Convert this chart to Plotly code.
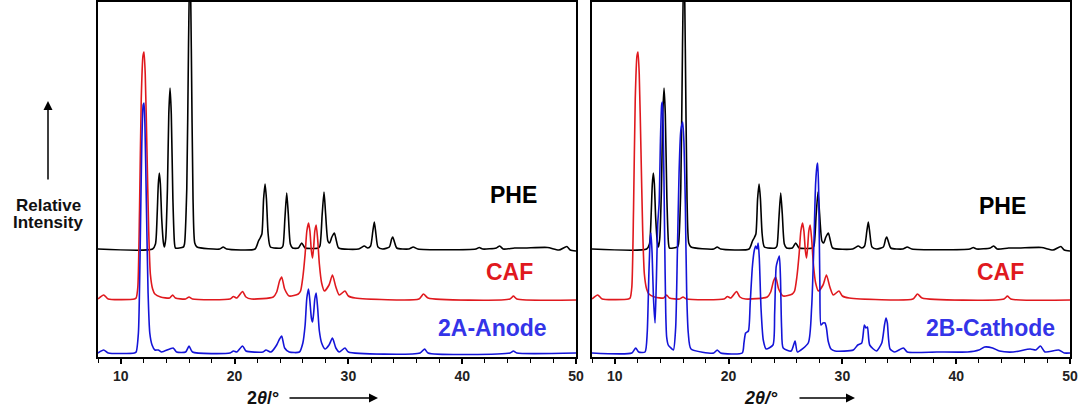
import plotly.graph_objects as go

# ---------------- data (2theta, intensity above own baseline) ----------------
phe_x = [8.0, 12.8, 13.05, 13.2, 13.3, 13.39, 13.48, 13.6, 13.75, 13.83, 13.95, 14.1, 14.22, 14.33, 14.44, 14.58,
         14.72, 14.8, 15.5, 15.6, 15.8, 15.95, 16.08, 16.2, 16.35, 16.5, 16.7, 18.7, 19.0, 19.3, 21.8, 22.1, 22.25,
         22.4, 22.55, 22.68, 22.8, 22.95, 23.15, 24.1, 24.25, 24.42, 24.58, 24.72, 24.9, 25.1, 25.6, 25.9, 26.2,
         27.35, 27.5, 27.7, 27.86, 28.0, 28.2, 28.35, 28.55, 28.77, 28.95, 29.15, 30.9, 31.4, 31.7, 31.95, 32.15,
         32.28, 32.42, 32.6, 33.0, 33.6, 33.8, 33.9, 34.05, 34.25, 35.3, 35.7, 36.1, 41.2, 41.5, 41.8, 43.0, 43.3,
         43.6, 44.6, 45.5, 47.5, 48.5, 49.2, 49.5, 50.0]
phe_y = [0, 0, 5, 35, 65, 76, 65, 30, 6, 2, 10, 60, 135, 161, 135, 50,
         6, 1, 2, 5, 60, 200, 300, 200, 50, 6, 2, 0, 2, 0, 0, 8, 11,
         15, 50, 65, 50, 15, 2, 1, 3, 30, 56, 35, 5, 1, 1, 6, 1,
         1, 3, 35, 57, 35, 8, 6, 12, 16, 8, 1, 0, 3, 1, 3, 18,
         27, 15, 2, 0, 2, 10, 12, 7, 1, 0, 2, 0, 0, 1.5, 0, 1, 3,
         0, 1, 1, 1.5, -1, 2.5, -1, -2]

caf_x = [8.0, 8.5, 8.9, 11.2, 11.35, 11.5, 11.65, 11.8, 11.95, 12.04, 12.15, 12.3, 12.45, 12.6, 12.8, 13.0, 13.5,
         14.3, 14.56, 14.8, 15.7, 16.0, 16.3, 19.6, 19.9, 20.2, 20.7, 21.0, 21.5, 23.4, 23.7, 23.95, 24.14, 24.4,
         24.8, 25.6, 25.8, 26.0, 26.2, 26.35, 26.5, 26.62, 26.75, 26.85, 26.95, 27.05, 27.17, 27.3, 27.45, 27.65,
         27.9, 28.3, 28.6, 28.9, 29.2, 29.7, 30.0, 30.6, 36.2, 36.6, 37.0, 44.2, 44.5, 44.8, 50.0]
caf_y = [0, 4, 0, 0, 1, 12, 90, 200, 243, 247, 225, 150, 70, 25, 10, 5, 2,
         1, 4, 1, 0, 2, 0, 0, 2.5, 1, 7.5, 2, 0, 2, 7, 18, 22, 10,
         3, 5, 8, 22, 45, 68, 76, 68, 48, 41, 52, 68, 74, 60, 35, 16,
         8, 14, 24, 12, 4, 8, 3, 1, 0, 5, 1, 0, 3, 0, -1]

anode_x = [8.0, 8.5, 8.9, 11.2, 11.35, 11.55, 11.7, 11.85, 11.97, 12.04, 12.12, 12.25, 12.4, 12.55, 12.75, 13.0,
           13.3, 13.6, 14.6, 14.9, 15.7, 16.0, 16.3, 19.6, 19.9, 20.2, 20.7, 21.0, 22.5, 22.76, 23.2, 23.7, 23.95,
           24.14, 24.4, 24.8, 25.7, 26.0, 26.2, 26.35, 26.5, 26.62, 26.75, 26.85, 26.95, 27.05, 27.17, 27.3, 27.45,
           27.65, 27.95, 28.3, 28.6, 28.9, 29.2, 29.7, 30.0, 36.3, 36.7, 37.0, 44.2, 44.5, 44.8, 50.0]
anode_y = [0, 3, 0, 0, 1, 20, 100, 210, 248, 250, 230, 150, 60, 20, 8, 3,
           3, 1, 5, 1, 1, 7, 1, 0, 2, 1, 7, 2, 1, 3, 1, 8, 14,
           17, 5, 1, 1, 10, 28, 55, 64, 52, 35, 31, 40, 54, 60, 45, 22,
           10, 4, 8, 15, 5, 1, 5, 1, 0, 4, 0, 0, 2, 0, 0]

cathode_x = [8.0, 11.5, 11.84, 12.1, 12.66, 12.85, 13.0, 13.12, 13.18, 13.28, 13.4, 13.54, 13.65, 13.78, 13.9, 14.02,
             14.12, 14.18, 14.26, 14.38, 14.48, 14.56, 14.7, 14.85, 15.15, 15.35, 15.5, 15.65, 15.8, 15.97, 16.08,
             16.2, 16.32, 16.46, 16.7, 18.7, 19.0, 19.3, 21.2, 21.35, 21.5, 21.74, 21.9, 22.09, 22.25, 22.38, 22.5,
             22.6, 22.7, 22.85, 23.05, 23.3, 23.9, 24.05, 24.18, 24.3, 24.46, 24.56, 24.66, 24.8, 25.5, 25.84, 26.05,
             27.0, 27.3, 27.5, 27.65, 27.78, 27.83, 27.92, 28.02, 28.12, 28.3, 28.47, 28.6, 28.75, 29.0, 29.35,
             30.96, 31.35, 31.7, 31.93, 32.07, 32.2, 32.4, 33.0, 33.46, 33.7, 33.83, 33.95, 34.05, 34.19, 34.6,
             35.36, 35.7, 38.3, 41.0, 42.0, 42.5, 43.2, 43.8, 45.0, 46.5, 47.0, 47.4, 47.8, 49.0, 49.5, 50.0]
cathode_y = [0, 0, 5, 1, 1, 20, 80, 115, 120, 100, 55, 30, 70, 130, 150, 215,
             248, 251, 225, 120, 40, 16, 8, 6, 3, 25, 100, 180, 222, 231, 210,
             150, 60, 20, 4, 0, 3, 0, 0, 10, 20, 22, 50, 86, 102, 107, 104,
             110, 95, 45, 13, 4, 8, 40, 86, 92, 97, 75, 25, 5, 2, 12, 1,
             10, 46, 110, 170, 188, 190, 160, 70, 28, 30, 30, 25, 12, 4, 2,
             3, 8, 10, 28, 25, 26, 8, 2, 10, 28, 35, 30, 15, 4, 1,
             5, 1, 1, 1, 3, 6, 5, 2, 1, 4, 3, 7, 1, 3, 0, 0]

x_ticks = [10, 20, 30, 40, 50]
labels_left = ["PHE", "CAF", "2A-Anode"]
labels_right = ["PHE", "CAF", "2B-Cathode"]

# ---------------- style ----------------
BLACK, RED, BLUE = "#000000", "#e0191e", "#1414d8"
TXT_BLUE = "#3434e8"
OFF_PHE, OFF_CAF, OFF_BLUE = 108, 58, 4
LW = 1.6

fig = go.Figure()


def add(xs, ys, off, color, xa, ya):
    fig.add_trace(go.Scatter(x=xs, y=[v + off for v in ys], mode="lines",
                             line=dict(color=color, width=LW, shape="spline", smoothing=0.6),
                             xaxis=xa, yaxis=ya, showlegend=False, hoverinfo="skip"))


for xa, ya, blue_x, blue_y in [("x", "y", anode_x, anode_y), ("x2", "y2", cathode_x, cathode_y)]:
    add(phe_x, phe_y, OFF_PHE, BLACK, xa, ya)
    add(caf_x, caf_y, OFF_CAF, RED, xa, ya)
    add(blue_x, blue_y, OFF_BLUE, BLUE, xa, ya)

W, H = 1083, 414
xd1 = [98 / W, 576 / W]
xd2 = [592 / W, 1070 / W]
yd = [1 - 357 / H, 1 - 2 / H]

xcommon = dict(range=[8, 50], tickvals=x_ticks, ticks="outside", ticklen=5, tickwidth=1.5,
               tickcolor="black", showline=True, linewidth=2, linecolor="black", mirror=True,
               showgrid=False, zeroline=False, automargin=False,
               tickfont=dict(family="Liberation Sans, Arial", size=14, color="#222", weight="bold"),
               minor=dict(dtick=2, tick0=0, ticks="outside", ticklen=4, tickwidth=1.2, tickcolor="black",
                          showgrid=False))
ycommon = dict(range=[0, 355], showticklabels=False, ticks="", showline=True, linewidth=2,
               linecolor="black", mirror=True, showgrid=False, zeroline=False, automargin=False)

fig.update_layout(
    width=W, height=H, margin=dict(l=0, r=0, t=0, b=0, pad=0),
    paper_bgcolor="white", plot_bgcolor="white",
    xaxis=dict(domain=xd1, anchor="y", **xcommon),
    yaxis=dict(domain=yd, anchor="x", **ycommon),
    xaxis2=dict(domain=xd2, anchor="y2", **xcommon),
    yaxis2=dict(domain=yd, anchor="x2", **ycommon),
)

lab_font = "Liberation Sans, Arial"
pos_left = [(44.5, 162), (44.2, 85), (42.7, 29)]
pos_right = [(44.1, 151), (43.9, 85), (43.0, 29)]
cols = [BLACK, RED, TXT_BLUE]
for (lx, ly), t, c in zip(pos_left, labels_left, cols):
    fig.add_annotation(x=lx, y=ly, xref="x", yref="y", text=t, showarrow=False,
                       xanchor="center", yanchor="middle",
                       font=dict(family=lab_font, size=23, color=c, weight="bold"))
for (lx, ly), t, c in zip(pos_right, labels_right, cols):
    fig.add_annotation(x=lx, y=ly, xref="x2", yref="y2", text=t, showarrow=False,
                       xanchor="center", yanchor="middle",
                       font=dict(family=lab_font, size=23, color=c, weight="bold"))

# y label + arrow
for txt, py in [("Relative", 205), ("Intensity", 222)]:
    fig.add_annotation(x=48 / W, y=1 - py / H, xref="paper", yref="paper",
                       text="<b>" + txt + "</b>", showarrow=False,
                       xanchor="center", yanchor="middle",
                       font=dict(family=lab_font, size=17, color="#111"))
fig.add_annotation(x=48 / W, y=1 - 101 / H, xref="paper", yref="paper", text="",
                   showarrow=True, ax=0, ay=80, axref="pixel", ayref="pixel",
                   arrowhead=2, arrowsize=1.2, arrowwidth=1.5, arrowcolor="black")

# x titles + arrows
fig.add_annotation(x=263 / W, y=1 - 398 / H, xref="paper", yref="paper",
                   text="<b>2<i>θ</i>/°</b>", showarrow=False,
                   xanchor="center", yanchor="middle",
                   font=dict(family=lab_font, size=18, color="#111"))
fig.add_annotation(x=378 / W, y=1 - 398 / H, xref="paper", yref="paper", text="",
                   showarrow=True, ax=-90, ay=0, arrowhead=2, arrowsize=1.2, arrowwidth=1.5,
                   arrowcolor="black")
fig.add_annotation(x=761 / W, y=1 - 398 / H, xref="paper", yref="paper",
                   text="<b><i>2θ/°</i></b>", showarrow=False,
                   xanchor="center", yanchor="middle",
                   font=dict(family=lab_font, size=18, color="#111"))
fig.add_annotation(x=855 / W, y=1 - 398 / H, xref="paper", yref="paper", text="",
                   showarrow=True, ax=-57, ay=0, arrowhead=2, arrowsize=1.2, arrowwidth=1.5,
                   arrowcolor="black")

fig.write_html("out.html", config={"displayModeBar": False},
               post_script="document.body.style.margin='0';document.body.style.padding='0';")
